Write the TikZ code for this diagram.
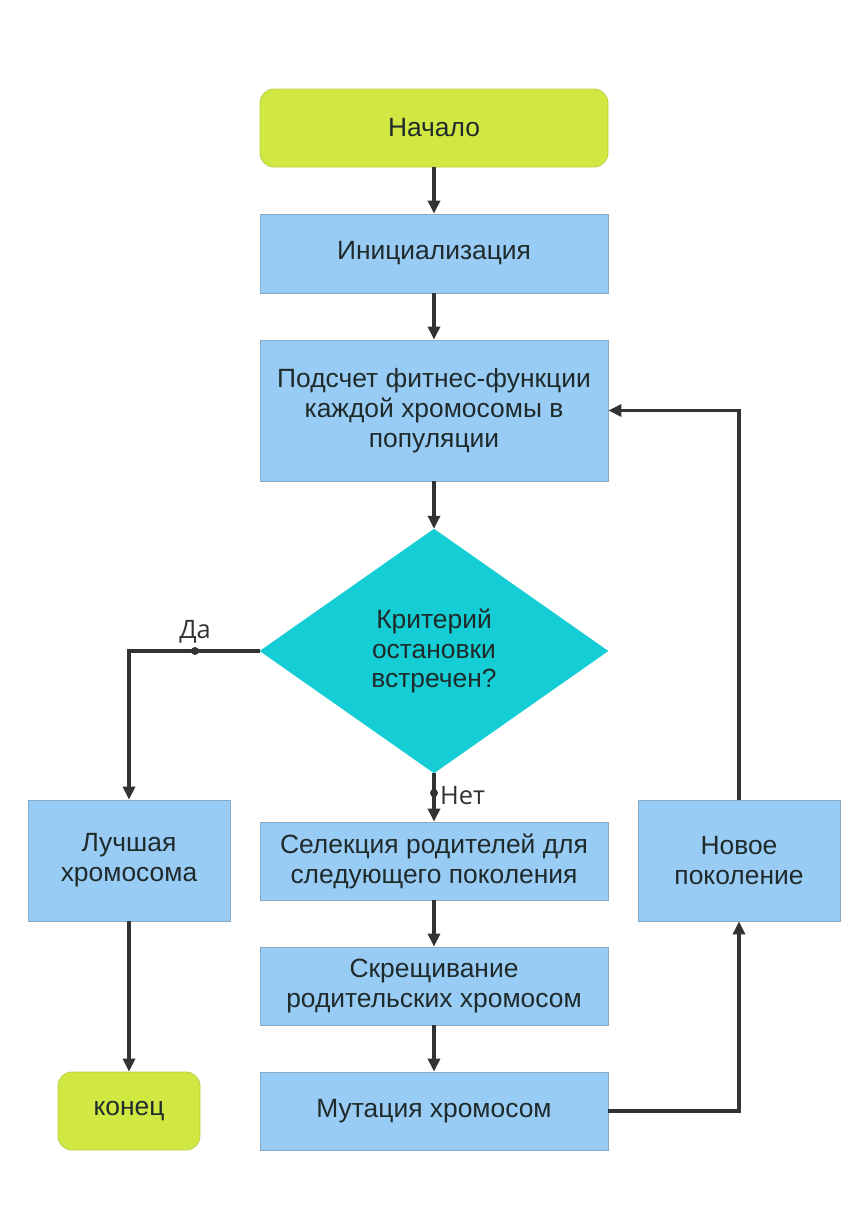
\documentclass[tikz,border=0pt]{standalone}
\usepackage{fontspec}
\setmainfont{Liberation Sans}
\newfontfamily\lblfont{Open Sans}
\usetikzlibrary{shapes.geometric,arrows.meta}
\definecolor{lime}{HTML}{D1E843}
\definecolor{limeb}{HTML}{B9CF45}
\definecolor{boxblue}{HTML}{99CCF5}
\definecolor{boxblueb}{HTML}{86A9C6}
\definecolor{diacyan}{HTML}{14CDD5}
\definecolor{linec}{HTML}{333333}
\definecolor{txt}{HTML}{1F2A2A}
\begin{document}
\begin{tikzpicture}[x=1bp,y=-1bp,
  every node/.style={font=\fontsize{26.5}{30}\selectfont, text=txt},
  stepbox/.style={rectangle, draw=boxblueb, line width=0.8bp, fill=boxblue, align=center, inner sep=0pt},
  termbox/.style={rectangle, rounded corners=14bp, draw=limeb, line width=0.8bp, fill=lime, align=center, inner sep=0pt},
  conn/.style={draw=linec, line width=3.2bp, -{Triangle[length=13bp,width=12bp]}},
  jdot/.style={circle, fill=linec, inner sep=0pt, minimum size=8bp},
  lbl/.style={font=\lblfont\fontsize{25.5}{28}\selectfont, text=linec}
]
\useasboundingbox (0,0) rectangle (867,1225);
\fill[white] (0,0) rectangle (867,1225);

\node[termbox, minimum width=348bp, minimum height=78bp] (start) at (434,128) {Начало};
\node[stepbox, minimum width=348bp, minimum height=79bp] (init) at (434,253.5) {Инициализация};
\node[stepbox, minimum width=348bp, minimum height=141bp] (fit) at (434,410.5) {Подсчет фитнес-функции\\каждой хромосомы в\\популяции};
\node[diamond, fill=diacyan, draw=diacyan, aspect=1.426, inner sep=0pt, minimum width=348bp, minimum height=244bp, align=center] (dec) at (434,651) {Критерий\\остановки\\встречен?};
\node[stepbox, minimum width=202bp, minimum height=121bp] (best) at (129,860.5) {Лучшая\\хромосома};
\node[stepbox, minimum width=348bp, minimum height=78bp] (sel) at (434,861) {Селекция родителей для\\следующего поколения};
\node[stepbox, minimum width=348bp, minimum height=78bp] (cross) at (434,986) {Скрещивание\\родительских хромосом};
\node[stepbox, minimum width=348bp, minimum height=78bp] (mut) at (434,1111) {Мутация хромосом};
\node[stepbox, minimum width=202bp, minimum height=121bp] (newg) at (739,860.5) {Новое\\поколение};
\node[termbox, minimum width=142bp, minimum height=78bp] (end) at (129,1111) {конец};

\draw[conn] (start) -- (init);
\draw[conn] (init) -- (fit);
\draw[conn] (fit) -- (dec);
\draw[conn] (dec.west) -| (best.north);
\draw[conn] (dec.south) -- (sel.north);
\draw[conn] (sel) -- (cross);
\draw[conn] (cross) -- (mut);
\draw[conn] (best) -- (end);
\draw[conn] (mut.east) -| (newg.south);
\draw[conn] (newg.north) |- (fit.east);

\node[jdot] (dyes) at (195,651) {};
\node[jdot] (dno) at (434,793) {};
\node[lbl, anchor=south] (lyes) at (195,647) {Да};
\node[lbl, anchor=west, inner sep=0pt] (lno) at (440,796) {Нет};
\end{tikzpicture}
\end{document}
